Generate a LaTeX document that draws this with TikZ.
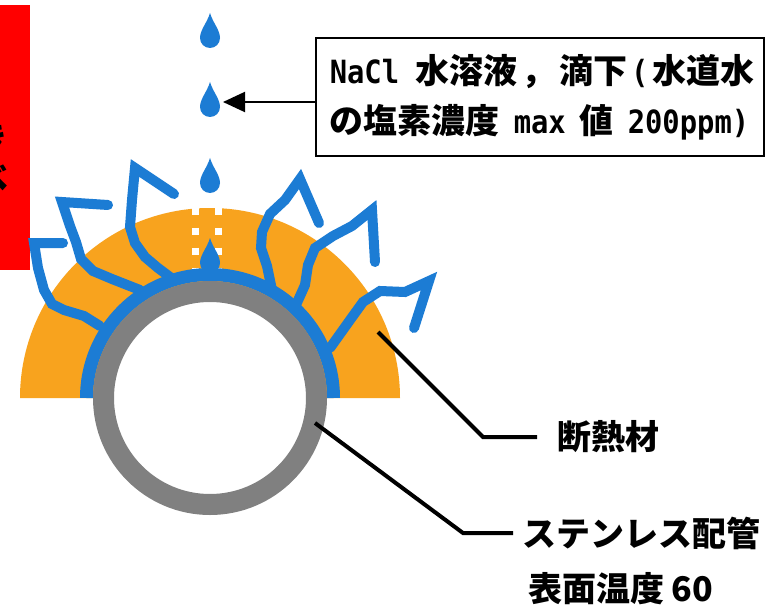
\documentclass[tikz,border=0pt]{standalone}
\usepackage{fontspec}
\usetikzlibrary{arrows.meta}
\newfontfamily\jpfont{Noto Sans CJK JP}
\newfontfamily\halffont{DejaVu Sans Mono}[FakeStretch=0.9]
\newcommand\hw[1]{{\halffont\fontsize{32}{50}\selectfont #1}}
\definecolor{insulorange}{RGB}{248,163,30}
\definecolor{waterblue}{RGB}{28,124,212}
\definecolor{pipegray}{RGB}{128,128,128}
\definecolor{warnred}{RGB}{255,0,0}

\tikzset{drop/.pic={
  \fill[waterblue] (0,-25) .. controls (3,-15) and (10,-8) .. (10,0)
    arc (0:180:10) .. controls (-10,-8) and (-3,-15) .. (0,-25) -- cycle;}}

\begin{document}
\begin{tikzpicture}[x=1pt,y=-1pt,
        callout/.style={draw,line width=1.6pt,anchor=north west,
                    text width=420pt,inner xsep=14pt,minimum height=118pt,
                    align=left,
                    font=\jpfont\bfseries\fontsize{34}{50}\selectfont},
        partname/.style={anchor=west,inner sep=0pt,
                    font=\jpfont\bfseries\fontsize{34}{40}\selectfont},
        crack/.style={waterblue,line width=10pt,line cap=round,
                    line join=miter},
        leader/.style={line width=4pt},
        pointer/.style={-{Triangle[length=22pt,width=20pt]},line width=2pt},
      ]
        \useasboundingbox (0,0) rectangle (766,607);
        \fill[white] (0,0) rectangle (766,607);

        % red tab, its text runs off the left edge
        \fill[warnred] (0,5) rectangle (30,270);
        \begin{scope}
          \clip (0,5) rectangle (30,270);
          \node[inner sep=0pt,align=center,
            font=\jpfont\bfseries\fontsize{34}{39}\selectfont]
            (redtag) at (-8,157) {き\\べ};
        \end{scope}

        % insulation, wet layer and pipe wall
        \fill[insulorange] (20,398) arc (180:360:190) -- cycle;
        \draw[white,line width=7pt,dash pattern=on 7pt off 13pt]
          (195,207.5) -- (195,280);
        \draw[white,line width=7pt,dash pattern=on 7pt off 13pt]
          (218.5,207.5) -- (218.5,280);

        \draw[crack] (63,243) -- (34,243) -- (38,268) -- (44,290) -- (52,304)
          -- (64,310) -- (84,316) -- (100,326);
        \draw[crack] (108,205) -- (62,202) -- (70,226) -- (76,242) -- (81,259)
          -- (93,271) -- (112,279) -- (140,290);
        \draw[crack] (174,194) -- (135,168) -- (132,200) -- (130,227)
          -- (135,243) -- (145,257) -- (158,268) -- (174,280);
        \draw[crack] (319,223) -- (300,179) -- (285,200) -- (270,214)
          -- (262,232) -- (261,248) -- (267,266) -- (272,290);
        \draw[crack] (375,262) -- (372,210) -- (352,226) -- (333,236)
          -- (315,248) -- (308,265) -- (305,285) -- (296,305);
        \draw[crack] (414,328) -- (429,281) -- (405,292) -- (380,291)
          -- (363,302) -- (350,320) -- (330,348);

        \pic at (210,263) {drop};
        \draw[waterblue,line width=13pt] (86.5,398) arc (180:360:123.5);
        \draw[pipegray,line width=21pt,fill=white] (210,398) circle (106.5);

        % falling drops
        \pic at (210,38) {drop};
        \pic at (210,107) {drop};
        \pic at (210,183) {drop};
        \coordinate (dropR) at (223,102);

        \node[callout] (salt) at (315,37) {%
          \hw{NaCl}\kern16pt 水溶液\kern4pt，\kern4pt 滴下\kern4pt\hw{(}\kern4pt 水道水\\
          の塩素濃度\kern14pt\hw{max}\kern14pt 値\kern14pt\hw{200ppm)}};
        \draw[pointer] (salt.west |- dropR) -- (dropR);

        \node[partname] (heat) at (557,437) {断熱材};
        \node[partname] (pipe) at (522,533) {ステンレス配管};
        \node[partname] (temp) at (528,589) {表面温度 60};

        \coordinate (insul) at (378,332);
        \coordinate (tube) at (315,423);
        \draw[leader] (insul) -- ++(105,105) -- ([xshift=-20pt]heat.west);
        \draw[leader] (tube) -- ++(148,110) -- ([xshift=-9pt]pipe.west);
      \end{tikzpicture}
\end{document}
